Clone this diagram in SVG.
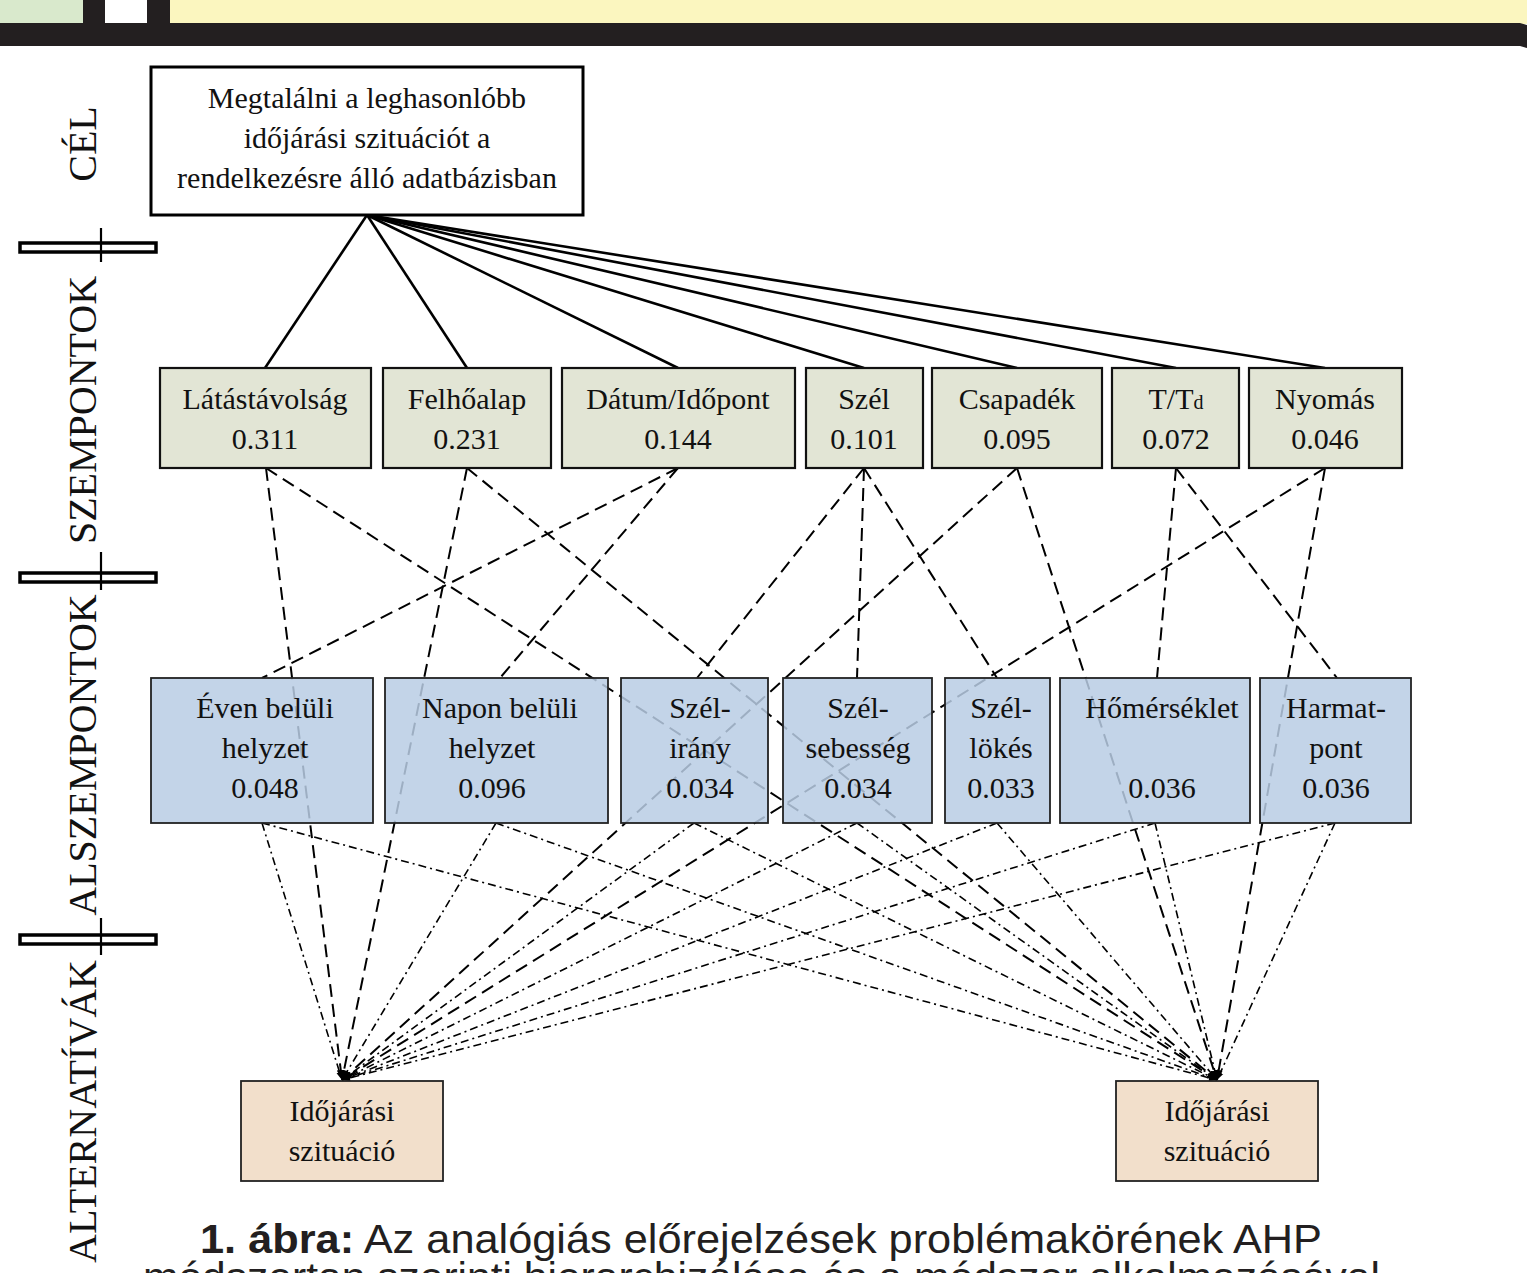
<svg xmlns="http://www.w3.org/2000/svg" width="1527" height="1273" viewBox="0 0 1527 1273">
<style>
.t{font-family:"Liberation Serif","Times New Roman",serif;font-size:30px;fill:#111;text-anchor:middle}
.side{font-family:"Liberation Serif","Times New Roman",serif;font-size:40px;fill:#111}
.crit{fill:#e2e5d5;stroke:#111;stroke-width:2.2}
.sub{fill:#b8cce4;fill-opacity:0.85;stroke:#222;stroke-width:1.8}
.alt{fill:#f2dfcb;stroke:#222;stroke-width:1.8}
.solid{stroke:#000;stroke-width:2.6;fill:none}
.dash{stroke:#000;stroke-width:2;stroke-dasharray:13 7;fill:none}
.dd{stroke:#000;stroke-width:1.6;stroke-dasharray:8 4 2 4;fill:none}
.cap{font-family:"Liberation Sans",Arial,sans-serif;font-size:40px;fill:#231f20}
</style>
<defs>
<marker id="ah" viewBox="0 0 10 10" refX="10" refY="5" markerWidth="5" markerHeight="5" orient="auto" markerUnits="strokeWidth">
<path d="M0,1 L10,5 L0,9 z" fill="#000"/>
</marker>
</defs>
<rect width="1527" height="1273" fill="#fff"/>
<g id="header">
<rect x="0" y="0" width="83" height="24" fill="#d9e9cc"/>
<rect x="83" y="0" width="22" height="24" fill="#231f20"/>
<rect x="105" y="0" width="42" height="24" fill="#fff"/>
<rect x="147" y="0" width="23" height="24" fill="#231f20"/>
<rect x="170" y="0" width="1357" height="24" fill="#fbf6bf"/>
<path d="M0,23 H1520 L1527,25 V48 L1520,46 H0 z" fill="#231f20"/>
</g>
<g id="side-labels">
<text class="side" text-anchor="middle" transform="translate(96,144) rotate(-90)">CÉL</text>
<text class="side" text-anchor="middle" transform="translate(96,410) rotate(-90)">SZEMPONTOK</text>
<text class="side" text-anchor="middle" transform="translate(96,755) rotate(-90)">ALSZEMPONTOK</text>
<text class="side" text-anchor="end" transform="translate(96,960) rotate(-90)">ALTERNATÍVÁK</text>
<g fill="#fff" stroke="#000" stroke-width="3.5">
<rect x="20" y="243" width="136" height="9"/>
<rect x="20" y="573" width="136" height="9"/>
<rect x="20" y="935" width="136" height="9"/>
</g>
<g stroke="#000" stroke-width="2.2">
<line x1="101" y1="228" x2="101" y2="262"/>
<line x1="101" y1="552" x2="101" y2="590"/>
<line x1="101" y1="918" x2="101" y2="955"/>
</g>
</g>
<g id="connectors">
<g class="solid">
<line x1="367" y1="215" x2="265" y2="368"/>
<line x1="367" y1="215" x2="467" y2="368"/>
<line x1="367" y1="215" x2="678" y2="368"/>
<line x1="367" y1="215" x2="864" y2="368"/>
<line x1="367" y1="215" x2="1017" y2="368"/>
<line x1="367" y1="215" x2="1176" y2="368"/>
<line x1="367" y1="215" x2="1325" y2="368"/>
</g>
<g class="dash">
<line x1="678" y1="468" x2="262" y2="678"/>
<line x1="678" y1="468" x2="500" y2="678"/>
<line x1="864" y1="468" x2="697" y2="678"/>
<line x1="864" y1="468" x2="857" y2="678"/>
<line x1="864" y1="468" x2="997" y2="678"/>
<line x1="1176" y1="468" x2="1157" y2="678"/>
<line x1="1176" y1="468" x2="1337" y2="678"/>
</g>
<g class="dash" marker-end="url(#ah)">
<line x1="266" y1="468" x2="342" y2="1080"/>
<line x1="266" y1="468" x2="1217" y2="1080"/>
<line x1="467" y1="468" x2="342" y2="1080"/>
<line x1="467" y1="468" x2="1217" y2="1080"/>
<line x1="1017" y1="468" x2="342" y2="1080"/>
<line x1="1017" y1="468" x2="1217" y2="1080"/>
<line x1="1325" y1="468" x2="342" y2="1080"/>
<line x1="1325" y1="468" x2="1217" y2="1080"/>
</g>
<g class="dd" marker-end="url(#ah)">
<line x1="262" y1="823" x2="342" y2="1080"/>
<line x1="262" y1="823" x2="1217" y2="1080"/>
<line x1="496" y1="823" x2="342" y2="1080"/>
<line x1="496" y1="823" x2="1217" y2="1080"/>
<line x1="694" y1="823" x2="342" y2="1080"/>
<line x1="694" y1="823" x2="1217" y2="1080"/>
<line x1="857" y1="823" x2="342" y2="1080"/>
<line x1="857" y1="823" x2="1217" y2="1080"/>
<line x1="997" y1="823" x2="342" y2="1080"/>
<line x1="997" y1="823" x2="1217" y2="1080"/>
<line x1="1155" y1="823" x2="342" y2="1080"/>
<line x1="1155" y1="823" x2="1217" y2="1080"/>
<line x1="1335" y1="823" x2="342" y2="1080"/>
<line x1="1335" y1="823" x2="1217" y2="1080"/>
</g>
</g>
<g id="goal">
<rect x="151" y="67" width="432" height="148" fill="#fff" stroke="#000" stroke-width="3"/>
<text class="t" x="367" y="108">Megtalálni a leghasonlóbb</text>
<text class="t" x="367" y="148">időjárási szituációt a</text>
<text class="t" x="367" y="188">rendelkezésre álló adatbázisban</text>
</g>
<g id="c-latas"><rect class="crit" x="160" y="368" width="211" height="100"/><text class="t" x="265" y="409">Látástávolság</text><text class="t" x="265" y="449">0.311</text></g>
<g id="c-felho"><rect class="crit" x="383" y="368" width="168" height="100"/><text class="t" x="467" y="409">Felhőalap</text><text class="t" x="467" y="449">0.231</text></g>
<g id="c-datum"><rect class="crit" x="562" y="368" width="233" height="100"/><text class="t" x="678" y="409">Dátum/Időpont</text><text class="t" x="678" y="449">0.144</text></g>
<g id="c-szel"><rect class="crit" x="806" y="368" width="117" height="100"/><text class="t" x="864" y="409">Szél</text><text class="t" x="864" y="449">0.101</text></g>
<g id="c-csap"><rect class="crit" x="932" y="368" width="170" height="100"/><text class="t" x="1017" y="409">Csapadék</text><text class="t" x="1017" y="449">0.095</text></g>
<g id="c-ttd"><rect class="crit" x="1112" y="368" width="127" height="100"/><text class="t" x="1176" y="409">T/T<tspan font-size="20">d</tspan></text><text class="t" x="1176" y="449">0.072</text></g>
<g id="c-nyomas"><rect class="crit" x="1249" y="368" width="153" height="100"/><text class="t" x="1325" y="409">Nyomás</text><text class="t" x="1325" y="449">0.046</text></g>
<g id="s-even"><rect class="sub" x="151" y="678" width="222" height="145"/><text class="t" x="265" y="718">Éven belüli</text><text class="t" x="265" y="758">helyzet</text><text class="t" x="265" y="798">0.048</text></g>
<g id="s-napon"><rect class="sub" x="385" y="678" width="223" height="145"/><text class="t" x="500" y="718">Napon belüli</text><text class="t" x="492" y="758">helyzet</text><text class="t" x="492" y="798">0.096</text></g>
<g id="s-szelirany"><rect class="sub" x="621" y="678" width="147" height="145"/><text class="t" x="700" y="718">Szél-</text><text class="t" x="700" y="758">irány</text><text class="t" x="700" y="798">0.034</text></g>
<g id="s-szelseb"><rect class="sub" x="783" y="678" width="149" height="145"/><text class="t" x="858" y="718">Szél-</text><text class="t" x="858" y="758">sebesség</text><text class="t" x="858" y="798">0.034</text></g>
<g id="s-szellokes"><rect class="sub" x="945" y="678" width="105" height="145"/><text class="t" x="1001" y="718">Szél-</text><text class="t" x="1001" y="758">lökés</text><text class="t" x="1001" y="798">0.033</text></g>
<g id="s-hom"><rect class="sub" x="1060" y="678" width="190" height="145"/><text class="t" x="1162" y="718">Hőmérséklet</text><text class="t" x="1162" y="798">0.036</text></g>
<g id="s-harmat"><rect class="sub" x="1260" y="678" width="151" height="145"/><text class="t" x="1336" y="718">Harmat-</text><text class="t" x="1336" y="758">pont</text><text class="t" x="1336" y="798">0.036</text></g>
<g id="a-1"><rect class="alt" x="241" y="1081" width="202" height="100"/><text class="t" x="342" y="1121">Időjárási</text><text class="t" x="342" y="1161">szituáció</text></g>
<g id="a-2"><rect class="alt" x="1116" y="1081" width="202" height="100"/><text class="t" x="1217" y="1121">Időjárási</text><text class="t" x="1217" y="1161">szituáció</text></g>
<g id="caption">
<text class="cap" x="200" y="1253" textLength="1122" lengthAdjust="spacingAndGlyphs"><tspan font-weight="bold">1. ábra:</tspan>  Az analógiás előrejelzések problémakörének AHP</text>
<text class="cap" x="143" y="1291" textLength="1237" lengthAdjust="spacingAndGlyphs">módszertan szerinti hierarchizálása és a módszer alkalmazásával</text>
</g>
</svg>
